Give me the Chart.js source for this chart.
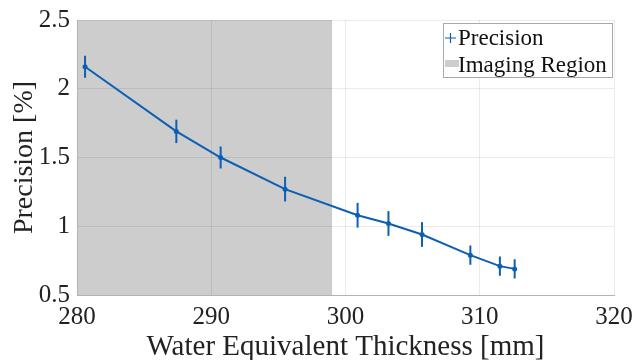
<!DOCTYPE html>
<html>
<head>
<meta charset="utf-8">
<script src="https://cdn.jsdelivr.net/npm/chart.js@4/dist/chart.umd.min.js"></script>
<style>
  html, body { margin: 0; padding: 0; background: #fff; }
  #wrap { width: 636px; height: 360px; }
</style>
</head>
<body>
<div id="wrap"><canvas id="precisionCanvas"></canvas></div>
<script>
// water equivalent thickness [mm] and measured precision [%]
const wet = [280.6, 287.4, 290.7, 295.5, 300.9, 303.2, 305.7, 309.3, 311.5, 312.6];
const precision = [2.16, 1.69, 1.50, 1.27, 1.08, 1.02, 0.94, 0.79, 0.71, 0.69];
const precisionErr = [0.08, 0.085, 0.08, 0.09, 0.09, 0.09, 0.09, 0.07, 0.07, 0.07];

// shaded imaging region along the x axis
const imagingRegion = [280, 299];

const xTicks = [280, 290, 300, 310, 320];
const yTicks = [0.5, 1, 1.5, 2, 2.5];

const seriesLabels = ['Precision', 'Imaging Region'];

const blue = '#0c5fb3';
const regionGray = '#cdcdcd';
const serif = "'Liberation Serif', 'Times New Roman', serif";

const points = wet.map((x, i) => ({ x: x, y: precision[i] }));

// gray band behind everything
const regionPlugin = {
  id: 'imagingRegion',
  beforeDraw: (chart) => {
    const ctx = chart.ctx;
    const xs = chart.scales.x;
    const area = chart.chartArea;
    const x0 = xs.getPixelForValue(imagingRegion[0]);
    const x1 = xs.getPixelForValue(imagingRegion[1]);
    ctx.save();
    ctx.fillStyle = regionGray;
    ctx.fillRect(x0, area.top, x1 - x0, area.bottom - area.top);
    ctx.restore();
  }
};

// vertical error bars, no caps
const errorBarPlugin = {
  id: 'errorBars',
  afterDatasetsDraw: (chart) => {
    const ctx = chart.ctx;
    const xs = chart.scales.x;
    const ys = chart.scales.y;
    ctx.save();
    ctx.strokeStyle = blue;
    ctx.lineWidth = 2;
    wet.forEach((x, i) => {
      const px = xs.getPixelForValue(x);
      ctx.beginPath();
      ctx.moveTo(px, ys.getPixelForValue(precision[i] - precisionErr[i]));
      ctx.lineTo(px, ys.getPixelForValue(precision[i] + precisionErr[i]));
      ctx.stroke();
    });
    ctx.restore();
  }
};

// boxed legend in the upper right corner of the plot
const legendBoxPlugin = {
  id: 'legendBox',
  afterDraw: (chart) => {
    const ctx = chart.ctx;
    const area = chart.chartArea;
    const w = 169, h = 54;
    const L = area.right - 2 - w;
    const T = area.top + 3;
    ctx.save();
    ctx.fillStyle = '#fff';
    ctx.fillRect(L, T, w, h);
    ctx.strokeStyle = '#a9a9a9';
    ctx.lineWidth = 1;
    ctx.strokeRect(L + 0.5, T + 0.5, w, h);

    // plus marker
    ctx.strokeStyle = blue;
    ctx.lineWidth = 1.2;
    ctx.beginPath();
    ctx.moveTo(L + 2, T + 15);
    ctx.lineTo(L + 13, T + 15);
    ctx.moveTo(L + 7.5, T + 10);
    ctx.lineTo(L + 7.5, T + 20);
    ctx.stroke();

    // patch marker
    ctx.fillStyle = regionGray;
    ctx.fillRect(L + 2, T + 37, 14, 7);

    ctx.fillStyle = '#111';
    ctx.font = '23px ' + serif;
    ctx.textBaseline = 'alphabetic';
    ctx.textAlign = 'left';
    ctx.fillText(seriesLabels[0], L + 15, T + 22);
    ctx.fillText(seriesLabels[1], L + 15, T + 49);
    ctx.restore();
  }
};

const ctx = document.getElementById('precisionCanvas').getContext('2d');
const chart = new Chart(ctx, {
  type: 'line',
  data: {
    datasets: [{
      label: seriesLabels[0],
      data: points,
      borderColor: blue,
      backgroundColor: blue,
      borderWidth: 2,
      pointRadius: 2.5,
      pointBorderWidth: 0,
      tension: 0,
      fill: false
    }]
  },
  options: {
    responsive: true,
    maintainAspectRatio: false,
    animation: false,
    layout: { padding: { top: 20, right: 22, left: 0, bottom: 0 } },
    scales: {
      x: {
        type: 'linear',
        min: 280,
        max: 320,
        afterBuildTicks: (scale) => { scale.ticks = xTicks.map(v => ({ value: v })); },
        afterFit: (scale) => {
          scale.height = 65;
          scale.paddingLeft = 0;
          scale.paddingRight = 0;
        },
        grid: { color: 'rgba(0,0,0,0.08)', drawTicks: false },
        border: { color: '#b3b3b3', width: 1 },
        ticks: {
          color: '#222',
          padding: 7,
          maxRotation: 0,
          font: { family: serif, size: 25 },
          callback: (v) => String(v)
        },
        title: {
          display: true,
          text: 'Water Equivalent Thickness [mm]',
          color: '#222',
          font: { family: serif, size: 29, lineHeight: 1 },
          padding: { top: 0, bottom: -2 }
        }
      },
      y: {
        type: 'linear',
        min: 0.5,
        max: 2.5,
        afterBuildTicks: (scale) => { scale.ticks = yTicks.map(v => ({ value: v })); },
        afterFit: (scale) => {
          scale.width = 77;
          scale.paddingTop = 0;
          scale.paddingBottom = 0;
        },
        grid: { color: 'rgba(0,0,0,0.08)', drawTicks: false },
        border: { color: '#b3b3b3', width: 1 },
        ticks: {
          color: '#222',
          padding: 7,
          font: { family: serif, size: 25 },
          callback: (v) => String(v)
        },
        title: {
          display: true,
          text: 'Precision [%]',
          color: '#222',
          font: { family: serif, size: 28, lineHeight: 1 },
          padding: { top: 11, bottom: 0 }
        }
      }
    },
    plugins: {
      legend: { display: false },
      tooltip: { enabled: false }
    }
  },
  plugins: [regionPlugin, errorBarPlugin, legendBoxPlugin]
});
</script>
</body>
</html>
